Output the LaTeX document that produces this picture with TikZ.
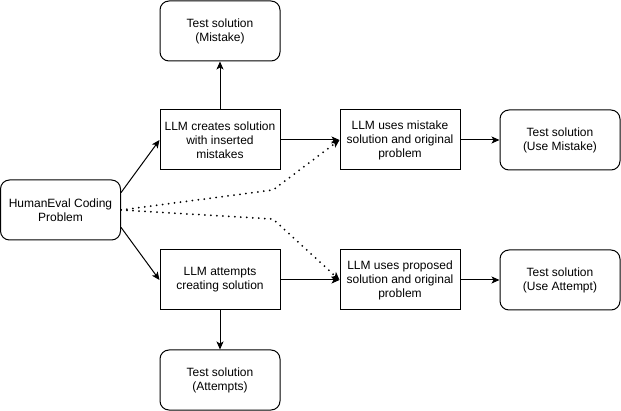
\documentclass[tikz,border=0pt]{standalone}
\usepackage{fontspec}
\setmainfont{Liberation Sans}
\usetikzlibrary{arrows.meta,positioning}
\tikzset{
	->,
	>={Stealth[length=8pt,width=7pt,inset=2pt]},
	every node/.style={font=\fontsize{12}{14}\selectfont, align=center},
	llmbox/.style={draw, line width=1pt, minimum width=120pt, minimum height=60pt, inner sep=0pt},
	testbox/.style={llmbox, rounded corners=9pt},
	dotline/.style={line width=2pt, line cap=round, dash pattern=on 0pt off 6pt},
}

\begin{document}
\begin{tikzpicture}[x=1pt, y=-1pt, line width=1pt]
		\useasboundingbox (0,0) rectangle (621,411);
		\node[testbox] (human) at (60.5,210) {HumanEval Coding\\Problem};
		\node[testbox] (testmistake) at (220,31) {Test solution\\(Mistake)};
		\node[llmbox] (creates) at (220,140) {LLM creates solution\\with inserted\\mistakes};
		\node[llmbox] (attempts) at (220,280) {LLM attempts\\creating solution};
		\node[testbox] (testattempts) at (220,380) {Test solution\\(Attempts)};
		\node[llmbox] (usesmistake) at (400,140) {LLM uses mistake\\solution and original\\problem};
		\node[llmbox] (usesproposed) at (400,280) {LLM uses proposed\\solution and original\\problem};
		\node[testbox] (testusemistake) at (560,140) {Test solution\\(Use Mistake)};
		\node[testbox] (testuseattempt) at (560,280) {Test solution\\(Use Attempt)};

		\coordinate (bendtop) at (273,190);
		\coordinate (bendbottom) at (273,219);

		\draw (human.16) -- (creates.west);
		\draw (human.-16) -- (attempts.west);
		\draw (creates) -- (testmistake);
		\draw (attempts) -- (testattempts);
		\draw (creates) -- (usesmistake);
		\draw (attempts) -- (usesproposed);
		\draw (usesmistake) -- (testusemistake);
		\draw (usesproposed) -- (testuseattempt);

		% dotted links from the problem
		\draw[dotline] (human.east) -- (bendtop) -- (usesmistake.west);
		\draw[dotline] (human.east) -- (bendbottom) -- (usesproposed.west);
	\end{tikzpicture}
\end{document}
